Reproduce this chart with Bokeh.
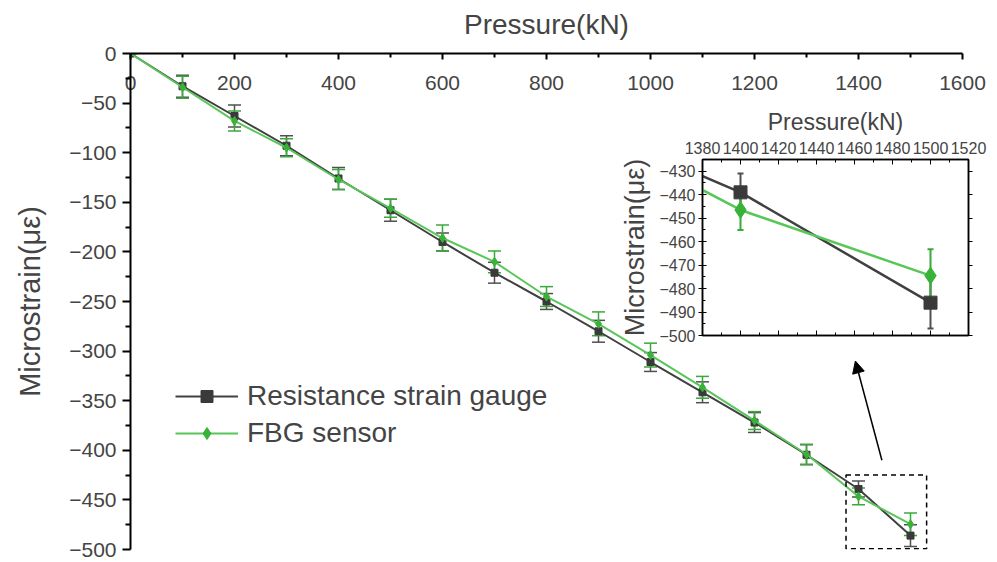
from bokeh.plotting import figure
from bokeh.models import (Range1d, LinearAxis, FixedTicker, Whisker, TeeHead,
                          ColumnDataSource, Legend, LegendItem, Arrow, NormalHead,
                          BoxAnnotation)
from bokeh.layouts import column
from bokeh.embed import file_html
from bokeh.resources import INLINE

# ---------------- data ----------------
pressure = [0, 100, 200, 300, 400, 500, 600, 700, 800, 900, 1000, 1100, 1200, 1300, 1400, 1500]
rsg = [0, -33, -63, -93, -126, -158, -190, -221, -250, -280, -311, -341.5, -372, -404.5, -439, -486]
rsg_err = [0, 11, 11, 10, 11, 11, 9, 10.5, 8, 11, 9.5, 10.5, 10, 10, 8, 11]
fbg = [0, -34, -68, -95, -127, -156, -186, -210, -245, -272.5, -304, -336.5, -370, -404, -446.5, -474.5]
fbg_err = [0, 11, 10, 9, 10, 9, 13, 11, 10, 12, 12, 11, 9, 10, 8.5, 11.3]

x_ticks = [0, 200, 400, 600, 800, 1000, 1200, 1400, 1600]
x_minor = [100, 300, 500, 700, 900, 1100, 1300, 1500]
y_ticks = [0, -50, -100, -150, -200, -250, -300, -350, -400, -450, -500]
y_tick_labels = ["0", "\u221250", "\u2212100", "\u2212150", "\u2212200", "\u2212250",
                 "\u2212300", "\u2212350", "\u2212400", "\u2212450", "\u2212500"]
y_minor = [-25, -75, -125, -175, -225, -275, -325, -375, -425, -475]

ix_ticks = [1380, 1400, 1420, 1440, 1460, 1480, 1500, 1520]
ix_minor = [1390, 1410, 1430, 1450, 1470, 1490, 1510]
iy_ticks = [-500, -490, -480, -470, -460, -450, -440, -430]
iy_tick_labels = ["\u2212500", "\u2212490", "\u2212480", "\u2212470", "\u2212460",
                  "\u2212450", "\u2212440", "\u2212430"]
iy_minor = [-495, -485, -475, -465, -455, -445, -435, -425]

series_names = ["Resistance strain gauge", "FBG sensor"]
x_title = "Pressure(kN)"
y_title = "Microstrain(\u03bc\u03b5)"

FONT = "Liberation Sans"
BLACK_LINE = "#404040"
BLACK_MARK = "#3a3a3a"
BLACK_ERR = "#505050"
GREEN_LINE = "#58c658"
GREEN_MARK = "#38b238"
GREEN_ERR = "#3aa83a"

src_r = ColumnDataSource(dict(x=pressure, y=rsg,
                              up=[v + e for v, e in zip(rsg, rsg_err)],
                              lo=[v - e for v, e in zip(rsg, rsg_err)]))
src_f = ColumnDataSource(dict(x=pressure, y=fbg,
                              up=[v + e for v, e in zip(fbg, fbg_err)],
                              lo=[v - e for v, e in zip(fbg, fbg_err)]))

# ---------------- main figure ----------------
p = figure(width=989, height=562, x_range=Range1d(0, 1600), y_range=Range1d(-500, 0),
           x_axis_location="above", output_backend="svg", toolbar_location=None,
           min_border_left=130, min_border_right=27, min_border_top=53, min_border_bottom=13)
p.outline_line_color = None
p.grid.visible = False
p.background_fill_color = "white"

xa = p.xaxis[0]
xa.ticker = FixedTicker(ticks=x_ticks, minor_ticks=x_minor)
xa.axis_label = x_title
xa.axis_label_text_font = FONT
xa.axis_label_text_font_size = "28px"
xa.axis_label_text_font_style = "normal"
xa.axis_label_standoff = 33
xa.major_label_text_font = FONT
xa.major_label_text_font_size = "21px"
xa.major_label_standoff = -36
xa.major_tick_in = 6
xa.major_tick_out = 0
xa.minor_tick_in = 4
xa.minor_tick_out = 0
xa.axis_line_width = 2
xa.major_tick_line_width = 2
xa.minor_tick_line_width = 2

ya = p.yaxis[0]
ya.ticker = FixedTicker(ticks=y_ticks, minor_ticks=y_minor)
ya.major_label_overrides = dict(zip(y_ticks, y_tick_labels))
ya.axis_label = y_title
ya.axis_label_text_font = FONT
ya.axis_label_text_font_size = "29px"
ya.axis_label_text_font_style = "normal"
ya.axis_label_standoff = 20
ya.major_label_text_font = FONT
ya.major_label_text_font_size = "21px"
ya.major_label_standoff = 6
ya.major_tick_in = 0
ya.major_tick_out = 8
ya.minor_tick_in = 0
ya.minor_tick_out = 5
ya.axis_line_width = 2
ya.major_tick_line_width = 2
ya.minor_tick_line_width = 2

wr = Whisker(source=src_r, base="x", upper="up", lower="lo", line_color=BLACK_ERR,
             line_width=1.5,
             upper_head=TeeHead(size=13, line_color=BLACK_ERR, line_width=1.5),
             lower_head=TeeHead(size=13, line_color=BLACK_ERR, line_width=1.5))
wf = Whisker(source=src_f, base="x", upper="up", lower="lo", line_color=GREEN_ERR,
             line_width=1.5,
             upper_head=TeeHead(size=13, line_color=GREEN_ERR, line_width=1.5),
             lower_head=TeeHead(size=13, line_color=GREEN_ERR, line_width=1.5))
p.add_layout(wr)
p.add_layout(wf)

lr = p.line("x", "y", source=src_r, line_color=BLACK_LINE, line_width=2)
sr = p.scatter("x", "y", source=src_r, marker="square", size=7, fill_color=BLACK_MARK,
               line_color=BLACK_MARK)
lf = p.line("x", "y", source=src_f, line_color=GREEN_LINE, line_width=2)
sf = p.scatter("x", "y", source=src_f, marker="diamond", size=9, fill_color=GREEN_MARK,
               line_color=GREEN_MARK)

legend = Legend(items=[LegendItem(label=series_names[0], renderers=[lr, sr]),
                       LegendItem(label=series_names[1], renderers=[lf, sf])],
                location=(45, 100), padding=0, margin=0, spacing=5,
                glyph_width=63, glyph_height=30, label_height=30, label_standoff=9,
                label_text_font=FONT, label_text_font_size="28px",
                border_line_alpha=0, background_fill_alpha=0)
p.add_layout(legend)

box = BoxAnnotation(left=1376, right=1531, top=-425, bottom=-499.3, fill_alpha=0,
                    line_color="black", line_alpha=1, line_width=1.5, line_dash="5 4")
p.add_layout(box)
p.add_layout(Arrow(end=NormalHead(size=12, fill_color="black", line_color="black"),
                   x_start=1445, y_start=-410, x_end=1394, y_end=-310,
                   line_color="black", line_width=1.5))

# ---------------- inset figure ----------------
# borders match the main figure's left/right borders (the column aligns them)
ins = figure(frame_width=266, frame_height=176, x_range=Range1d(1380, 1520),
             y_range=Range1d(-500, -425),
             x_axis_location="above", output_backend="svg", toolbar_location=None,
             min_border_left=130, min_border_right=27, min_border_top=62, min_border_bottom=8)
ins.grid.visible = False
ins.outline_line_color = "black"
ins.outline_line_width = 1.5
ins.background_fill_color = "white"
ins.border_fill_alpha = 0

ix = ins.xaxis[0]
ix.ticker = FixedTicker(ticks=ix_ticks, minor_ticks=ix_minor)
ix.axis_label = x_title
ix.axis_label_text_font = FONT
ix.axis_label_text_font_size = "23px"
ix.axis_label_text_font_style = "normal"
ix.axis_label_standoff = 4
ix.major_label_text_font = FONT
ix.major_label_text_font_size = "16px"
ix.major_label_standoff = 6
ix.major_tick_in = 5
ix.major_tick_out = 0
ix.minor_tick_in = 3
ix.minor_tick_out = 0
ix.axis_line_width = 1.5

iy = ins.yaxis[0]
iy.ticker = FixedTicker(ticks=iy_ticks, minor_ticks=iy_minor)
iy.major_label_overrides = dict(zip(iy_ticks, iy_tick_labels))
iy.axis_label = y_title
iy.axis_label_text_font = FONT
iy.axis_label_text_font_size = "27px"
iy.axis_label_text_font_style = "normal"
iy.axis_label_standoff = 6
iy.major_label_text_font = FONT
iy.major_label_text_font_size = "16px"
iy.major_label_standoff = 3
iy.major_tick_in = 4
iy.major_tick_out = 4
iy.minor_tick_in = 3
iy.minor_tick_out = 0
iy.axis_line_width = 1.5

bx = LinearAxis(ticker=FixedTicker(ticks=ix_ticks, minor_ticks=ix_minor),
                major_label_overrides={t: "" for t in ix_ticks}, major_label_standoff=0,
                major_tick_in=5, major_tick_out=0, minor_tick_in=3, minor_tick_out=0,
                axis_line_width=1.5)
ins.add_layout(bx, "below")
ry = LinearAxis(ticker=FixedTicker(ticks=iy_ticks, minor_ticks=[]),
                major_label_overrides={t: "" for t in iy_ticks}, major_label_standoff=0,
                major_tick_in=0, major_tick_out=4, axis_line_width=1.5)
ins.add_layout(ry, "right")

ins.add_layout(Whisker(source=src_r, base="x", upper="up", lower="lo", line_color=BLACK_ERR,
                       line_width=2,
                       upper_head=TeeHead(size=6, line_color=BLACK_ERR, line_width=2),
                       lower_head=TeeHead(size=6, line_color=BLACK_ERR, line_width=2)))
ins.add_layout(Whisker(source=src_f, base="x", upper="up", lower="lo", line_color=GREEN_ERR,
                       line_width=2,
                       upper_head=TeeHead(size=6, line_color=GREEN_ERR, line_width=2),
                       lower_head=TeeHead(size=6, line_color=GREEN_ERR, line_width=2)))
ins.line("x", "y", source=src_r, line_color=BLACK_LINE, line_width=2.5)
ins.scatter("x", "y", source=src_r, marker="square", size=13, fill_color=BLACK_MARK,
            line_color=BLACK_MARK)
ins.line("x", "y", source=src_f, line_color=GREEN_LINE, line_width=2.5)
ins.scatter("x", "y", source=src_f, marker="diamond", size=17, fill_color=GREEN_MARK,
            line_color=GREEN_MARK)

ins.styles = {"position": "absolute", "left": "572px", "top": "97px"}

layout = column(p, ins, styles={"position": "relative"})

open("out.html", "w").write(file_html(layout, INLINE))
